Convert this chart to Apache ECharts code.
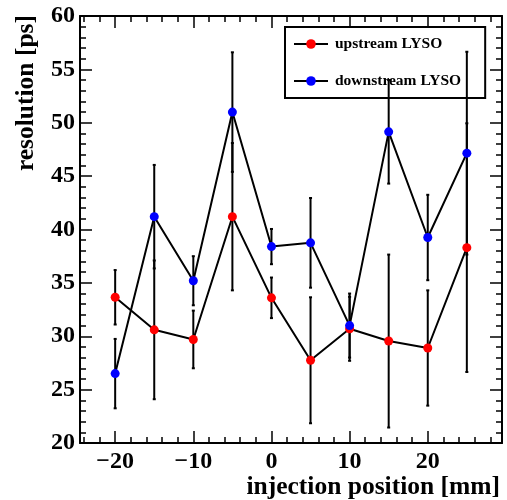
<!DOCTYPE html>
<html><head><meta charset="utf-8">
<script src="https://cdn.jsdelivr.net/npm/echarts@6/dist/echarts.min.js"></script>
<style>html,body{margin:0;padding:0;background:#fff}#c{width:507px;height:500px}</style>
</head><body><div id="c"></div><script>
const positions = [-20, -15, -10, -5, 0, 5, 10, 15, 20, 25];
const upstream = [33.65, 30.6, 29.7, 41.2, 33.6, 27.75, 30.7, 29.55, 28.9, 38.3];
const upstreamErr = [2.55, 6.5, 2.7, 6.9, 1.9, 5.9, 3.0, 8.1, 5.4, 11.65];
const downstream = [26.5, 41.2, 35.2, 51.0, 38.4, 38.75, 31.0, 49.15, 39.25, 47.15];
const downstreamErr = [3.25, 4.85, 2.3, 5.6, 1.65, 4.2, 3.0, 4.85, 4.0, 9.5];
const xMajorTicks = [-20, -10, 0, 10, 20];
const xMinorTicks = [-24, -22, -20, -18, -16, -14, -12, -10, -8, -6, -4, -2, 0, 2, 4, 6, 8, 10, 12, 14, 16, 18, 20, 22, 24, 26, 28];
const seriesNames = ['upstream LYSO', 'downstream LYSO'];
const xTitle = 'injection position [mm]';
const yTitle = 'resolution [ps]';

const FONT = '"Liberation Serif", "Times New Roman", serif';
const chart = echarts.init(document.getElementById('c'), null, {renderer: 'canvas'});

function xAx(pos, ticks, len, showLabel, showLine) {
  return {
    type: 'value', position: pos, min: -24.5, max: 29.5,
    axisLine: {show: showLine, onZero: false, lineStyle: {color: '#000', width: 2}},
    axisTick: {show: true, inside: true, length: len, customValues: ticks, lineStyle: {color: '#000', width: 1.5}},
    axisLabel: {show: showLabel, customValues: ticks, margin: 7,
      formatter: v => v < 0 ? '\u2212' + Math.abs(v) : String(v),
      fontFamily: FONT, fontWeight: 'bold', fontSize: 24, color: '#000'},
    splitLine: {show: false}, minorTick: {show: false}
  };
}
function yAx(pos, showLabel) {
  return {
    type: 'value', position: pos, min: 20, max: 60, interval: 5,
    axisLine: {show: true, onZero: false, lineStyle: {color: '#000', width: 2}},
    axisTick: {show: true, inside: true, length: 12, lineStyle: {color: '#000', width: 1.5}},
    minorTick: {show: true, splitNumber: 5, length: 6, lineStyle: {color: '#000', width: 1.5}},
    axisLabel: {show: showLabel, margin: 5, fontFamily: FONT, fontWeight: 'bold', fontSize: 24, color: '#000'},
    splitLine: {show: false}, minorSplitLine: {show: false}
  };
}

function errSeries(vals, errs, z) {
  return {
    type: 'custom', xAxisIndex: 0, yAxisIndex: 0, z: z, silent: true,
    data: positions.map((x, i) => [x, vals[i] - errs[i], vals[i] + errs[i]]),
    renderItem: (params, api) => {
      const lo = api.coord([api.value(0), api.value(1)]);
      const hi = api.coord([api.value(0), api.value(2)]);
      const st = {stroke: '#000', lineWidth: 2};
      return {type: 'group', children: [
        {type: 'line', shape: {x1: lo[0], y1: lo[1], x2: hi[0], y2: hi[1]}, style: st},
        {type: 'line', shape: {x1: lo[0] - 1.5, y1: lo[1], x2: lo[0] + 1.5, y2: lo[1]}, style: st},
        {type: 'line', shape: {x1: hi[0] - 1.5, y1: hi[1], x2: hi[0] + 1.5, y2: hi[1]}, style: st}
      ]};
    }
  };
}
function lineSeries(name, vals, color, z) {
  return {
    name: name, type: 'line', xAxisIndex: 0, yAxisIndex: 0, z: z,
    data: positions.map((x, i) => [x, vals[i]]),
    symbol: 'circle', symbolSize: 9,
    itemStyle: {color: color},
    lineStyle: {color: '#000', width: 2},
    emphasis: {disabled: true}, animation: false
  };
}

chart.setOption({
  animation: false,
  backgroundColor: '#fff',
  grid: {left: 80, right: 5, top: 16, bottom: 57},
  xAxis: [
    xAx('bottom', xMajorTicks, 12, true, true),
    xAx('bottom', xMinorTicks, 6, false, false),
    xAx('top', xMajorTicks, 12, false, true),
    xAx('top', xMinorTicks, 6, false, false)
  ],
  yAxis: [yAx('left', true), yAx('right', false)],
  legend: {
    data: seriesNames, orient: 'vertical', left: 285, top: 27, z: 1,
    itemWidth: 34, itemHeight: 12, itemGap: 21,
    padding: [9, 24, 9, 8],
    borderColor: '#000', borderWidth: 2, backgroundColor: '#fff', borderRadius: 0,
    textStyle: {fontFamily: FONT, fontWeight: 'bold', fontSize: 15.5, color: '#000', padding: [0, 0, 0, 2]},
    selectedMode: false
  },
  graphic: [
    {type: 'text', x: 500, y: 487, style: {text: xTitle, textAlign: 'right', textVerticalAlign: 'middle',
      font: 'bold 25.5px ' + FONT, fill: '#000'}},
    {type: 'text', x: 26, y: 15, rotation: Math.PI / 2, style: {text: yTitle, textAlign: 'right', textVerticalAlign: 'middle',
      font: 'bold 25.5px ' + FONT, fill: '#000'}}
  ],
  series: [
    errSeries(upstream, upstreamErr, 5),
    errSeries(downstream, downstreamErr, 5),
    lineSeries(seriesNames[0], upstream, '#ff0000', 6),
    lineSeries(seriesNames[1], downstream, '#0000ff', 7)
  ]
});
</script></body></html>
